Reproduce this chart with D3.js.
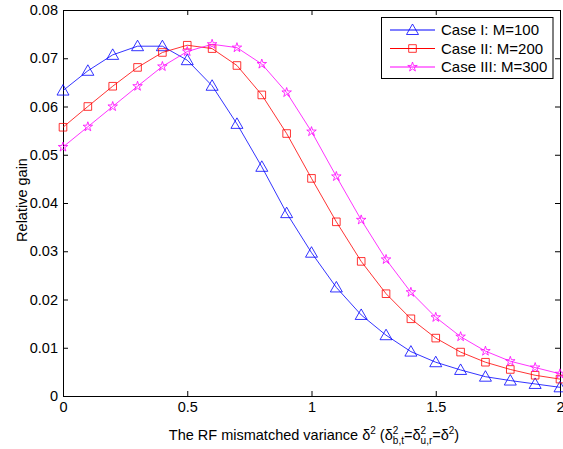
<!DOCTYPE html>
<html>
<head>
<meta charset="utf-8">
<script src="https://cdn.jsdelivr.net/npm/d3@7"></script>
<style>
  body { margin: 0; background: #fff; }
  text { font-family: "Liberation Sans", Arial, sans-serif; }
</style>
</head>
<body>
<div class="chart"></div>
<script>
// data
const xValues = d3.range(21).map(i => i / 10);
const case1 = [0.0633, 0.0674, 0.0707, 0.0725, 0.0725, 0.0696, 0.0643, 0.0564, 0.0475, 0.0379, 0.0297,
  0.0225, 0.0168, 0.0126, 0.0092, 0.0070, 0.0054, 0.0040, 0.0032, 0.0025, 0.0018];
const case2 = [0.0557, 0.0600, 0.0642, 0.0681, 0.0712, 0.0727, 0.0720, 0.0685, 0.0624, 0.0544, 0.0451,
  0.0361, 0.0279, 0.0212, 0.0160, 0.0120, 0.0091, 0.0070, 0.0055, 0.0043, 0.0035];
const case3 = [0.0516, 0.0558, 0.0600, 0.0642, 0.0683, 0.0714, 0.0729, 0.0722, 0.0688, 0.0629, 0.0548,
  0.0455, 0.0365, 0.0283, 0.0215, 0.0163, 0.0123, 0.0093, 0.0072, 0.0059, 0.0046];
const seriesNames = ['Case I: M=100', 'Case II: M=200', 'Case III: M=300'];
const xTicks = [0, 0.5, 1, 1.5, 2];
const yTicks = [0, 0.01, 0.02, 0.03, 0.04, 0.05, 0.06, 0.07, 0.08];

const series = [
  {name: seriesNames[0], values: case1, color: '#0000ff', marker: 'triangle'},
  {name: seriesNames[1], values: case2, color: '#ff0000', marker: 'square'},
  {name: seriesNames[2], values: case3, color: '#ff00ff', marker: 'star'}
];

const margin = ({top: 10, right: 3, bottom: 53, left: 63});
const W = 563, H = 449;
const width = W - margin.left - margin.right;
const height = H - margin.top - margin.bottom;
const fontSize = 14.5;

const svg = d3.select('.chart')
  .append('svg')
  .attr('width', W)
  .attr('height', H)
  .append('g')
  .attr('transform', 'translate(' + margin.left + ',' + margin.top + ')');

const xScale = d3.scaleLinear().domain([0, 2]).range([0, width]);
const yScale = d3.scaleLinear().domain([0, 0.08]).range([height, 0]);

const fmtY = d => d === 0 ? '0' : d3.format('.2f')(d);

// axes, matlab style: ticks pointing inward, box all around
svg.append('g')
  .attr('class', 'axis x-axis')
  .attr('transform', `translate(0, ${height})`)
  .call(d3.axisBottom(xScale).tickValues(xTicks).tickSize(-5).tickPadding(6).tickFormat(d3.format('')));
svg.append('g')
  .attr('class', 'axis x-top')
  .call(d3.axisTop(xScale).tickValues(xTicks).tickSize(-5).tickFormat(''));
svg.append('g')
  .attr('class', 'axis y-axis')
  .call(d3.axisLeft(yScale).tickValues(yTicks).tickSize(-5).tickPadding(5).tickFormat(fmtY));
svg.append('g')
  .attr('class', 'axis y-right')
  .attr('transform', `translate(${width}, 0)`)
  .call(d3.axisRight(yScale).tickValues(yTicks).tickSize(-5).tickFormat(''));

svg.selectAll('.axis path, .axis line').attr('stroke', '#000').attr('stroke-width', 1);
svg.selectAll('.axis text').attr('font-size', fontSize).attr('fill', '#000')
  .attr('font-family', '"Liberation Sans", Arial, sans-serif');

// marker shapes
function markerPath(type) {
  if (type === 'triangle') return 'M0,-6L6,4.5L-6,4.5Z';
  if (type === 'square') return 'M-3.8,-3.8H3.8V3.8H-3.8Z';
  return d3.symbol(d3.symbolStar, 28)();
}

const line = d3.line()
  .x((d, i) => xScale(xValues[i]))
  .y(d => yScale(d));

series.forEach(s => {
  svg.append('path')
    .datum(s.values)
    .attr('fill', 'none')
    .attr('stroke', s.color)
    .attr('stroke-width', 0.8)
    .attr('d', line);

  svg.selectAll(null)
    .data(s.values)
    .enter()
    .append('path')
    .attr('d', markerPath(s.marker))
    .attr('transform', (d, i) => `translate(${xScale(xValues[i])},${yScale(d)})`)
    .attr('fill', 'none')
    .attr('stroke', s.color)
    .attr('stroke-width', 0.8);
});

// legend
const legend = svg.append('g')
  .attr('transform', `translate(${381.5 - margin.left}, ${17.5 - margin.top})`);
legend.append('rect')
  .attr('width', 171.5)
  .attr('height', 61)
  .attr('fill', '#fff')
  .attr('stroke', '#000')
  .attr('stroke-width', 1);
series.forEach((s, i) => {
  const y = 12.5 + i * 18.5;
  legend.append('line')
    .attr('x1', 8.5).attr('x2', 53.5)
    .attr('y1', y).attr('y2', y)
    .attr('stroke', s.color).attr('stroke-width', 1);
  legend.append('path')
    .attr('d', markerPath(s.marker))
    .attr('transform', `translate(31,${y})`)
    .attr('fill', 'none')
    .attr('stroke', s.color)
    .attr('stroke-width', 0.8);
  legend.append('text')
    .attr('x', 59.5)
    .attr('y', y + 5)
    .attr('font-size', 15)
    .text(s.name);
});

// axis titles
const xl = svg.append('text')
  .attr('x', 314 - margin.left)
  .attr('y', 440 - margin.top)
  .attr('text-anchor', 'middle')
  .attr('font-size', fontSize);
xl.append('tspan').text('The RF mismatched variance \u03b4');
xl.append('tspan').attr('dy', -6).attr('font-size', 10).text('2');
xl.append('tspan').attr('dy', 6).text(' (\u03b4');
xl.append('tspan').attr('dy', -6).attr('font-size', 10).text('2');
xl.append('tspan').attr('dx', -5.5).attr('dy', 10).attr('font-size', 10).text('b,t');
xl.append('tspan').attr('dy', -4).text('=\u03b4');
xl.append('tspan').attr('dy', -6).attr('font-size', 10).text('2');
xl.append('tspan').attr('dx', -5.5).attr('dy', 10).attr('font-size', 10).text('u,r');
xl.append('tspan').attr('dy', -4).text('=\u03b4');
xl.append('tspan').attr('dy', -6).attr('font-size', 10).text('2');
xl.append('tspan').attr('dy', 6).text(')');

svg.append('text')
  .attr('transform', `translate(-36, ${200 - margin.top}) rotate(-90)`)
  .attr('text-anchor', 'middle')
  .attr('font-size', fontSize)
  .text('Relative gain');
</script>
</body>
</html>
